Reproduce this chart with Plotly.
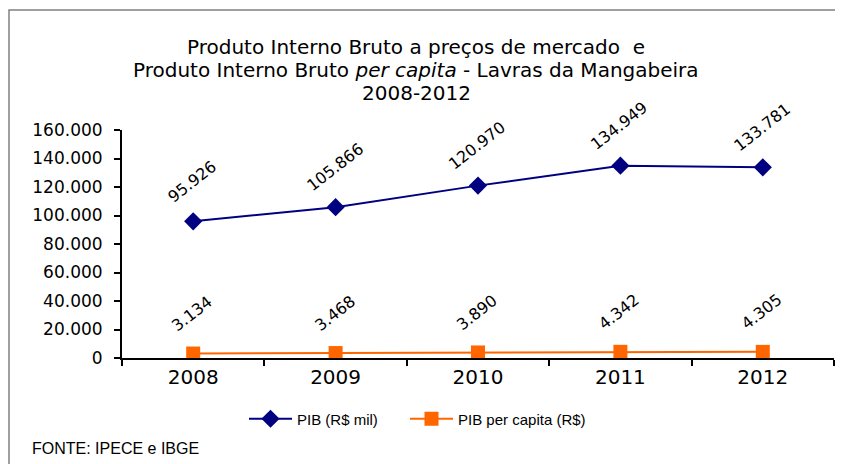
import plotly.graph_objects as go

years = ["2008", "2009", "2010", "2011", "2012"]
pib = [95926, 105866, 120970, 134949, 133781]
pib_pc = [3134, 3468, 3890, 4342, 4305]
y_ticks = [0, 20000, 40000, 60000, 80000, 100000, 120000, 140000, 160000]
title_lines = ["Produto Interno Bruto a preços de mercado  e",
               "Produto Interno Bruto <i>per capita</i> - Lavras da Mangabeira",
               "2008-2012"]

# page is rendered with an 8px body margin; compensate
OFF = 8
PW, PH = 843, 464
L, R, T, B = 122, 9, 130, 106          # plot area in page coordinates
pw, ph = PW - L - R, PH - T - B

def fx(px):
    return (px - L) / pw

def fy(py):
    return (PH - B - py) / ph

def fmt(v):
    return f"{v:,}".replace(",", ".")

fig = go.Figure()
fig.add_trace(go.Scatter(x=years, y=pib, mode="lines+markers", name="PIB (R$ mil)",
                         line=dict(color="#000080", width=2),
                         marker=dict(symbol="diamond", size=14, color="#000080"),
                         legend="legend"))
fig.add_trace(go.Scatter(x=years, y=pib_pc, mode="lines+markers", name="PIB per capita (R$)",
                         line=dict(color="#FF6600", width=2),
                         marker=dict(symbol="square", size=14, color="#FF6600"),
                         legend="legend2"))

annotations = []
for series in (pib, pib_pc):
    for i, v in enumerate(series):
        annotations.append(dict(x=i, y=v, xref="x", yref="y", text=fmt(v), showarrow=False,
                                textangle=-38, yshift=40, xshift=-1,
                                font=dict(family="DejaVu Sans", size=16, color="#000")))
annotations.append(dict(x=fx(30), y=fy(448), xref="paper", yref="paper",
                        xanchor="left", yanchor="middle", showarrow=False,
                        text="FONTE: IPECE e IBGE",
                        font=dict(family="Liberation Sans, Arial", size=16, color="#000")))
for k, line in enumerate(title_lines):
    annotations.append(dict(x=fx(416), y=fy(47 + 23 * k), xref="paper", yref="paper",
                            xanchor="center", yanchor="middle", showarrow=False,
                            text=line,
                            font=dict(family="DejaVu Sans", size=20, color="#000")))

leg_common = dict(orientation="h", xanchor="left", yanchor="middle",
                  font=dict(family="Liberation Sans, Arial", size=15, color="#000"),
                  bgcolor="rgba(0,0,0,0)", itemwidth=43)

fig.update_layout(
    width=PW - OFF, height=PH - OFF,
    margin=dict(l=L - OFF, r=R, t=T - OFF, b=B, pad=0, autoexpand=False),
    paper_bgcolor="white", plot_bgcolor="white",
    separators=",.",
    showlegend=True,
    legend=dict(x=fx(244), y=fy(419), **leg_common),
    legend2=dict(x=fx(405), y=fy(419), **leg_common),
    annotations=annotations,
    shapes=[dict(type="rect", xref="paper", yref="paper",
                 x0=fx(9), x1=1.2, y0=-1.0, y1=fy(10),
                 line=dict(color="#808080", width=1.5), layer="below")],
    xaxis=dict(type="category", range=[-0.5, 4.5], tickson="boundaries",
               ticks="outside", ticklen=6, tickwidth=2, tickcolor="#000",
               showline=True, linecolor="#000", linewidth=2, showgrid=False,
               tickfont=dict(family="DejaVu Sans", size=20, color="#000"), zeroline=False),
    yaxis=dict(range=[0, 160000], tickvals=y_ticks, tickformat=",d",
               ticks="outside", ticklen=6, tickwidth=2, tickcolor="#000",
               showline=True, linecolor="#000", linewidth=2, showgrid=False,
               zeroline=False, ticklabelstandoff=8,
               tickfont=dict(family="DejaVu Sans", size=17, color="#000")),
)

fig.write_html("out.html")
